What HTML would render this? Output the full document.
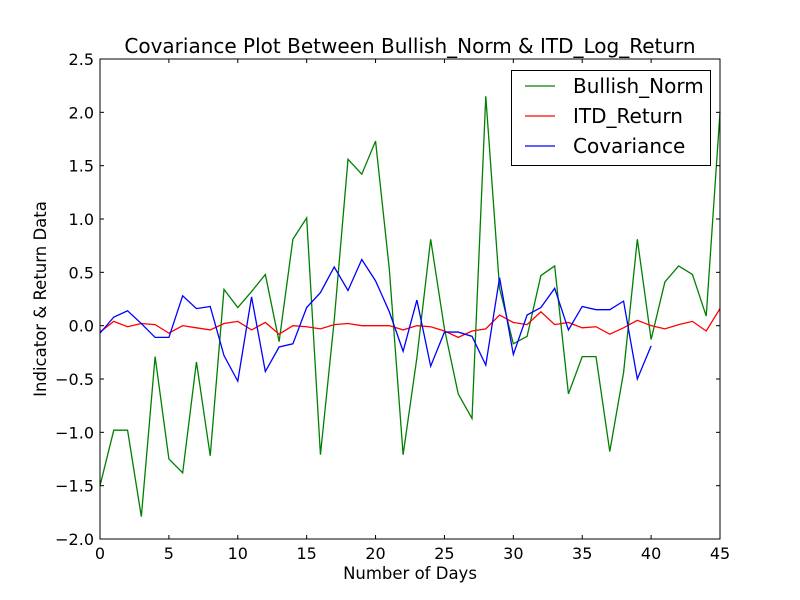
<!DOCTYPE html>
<html><head><meta charset="utf-8"><style>body{margin:0;background:#fff}svg{display:block;font-family:"DejaVu Sans","Liberation Sans",sans-serif}</style></head>
<body>
<svg id="chart" width="800" height="600">
<rect width="800" height="600" fill="#fff"/>
<g id="plot"></g>
</svg>
<script>
const xTicks=[0,5,10,15,20,25,30,35,40,45];
const yTicks=[-2.0,-1.5,-1.0,-0.5,0.0,0.5,1.0,1.5,2.0,2.5];
const bullish=[-1.5,-0.98,-0.98,-1.79,-0.29,-1.25,-1.38,-0.34,-1.22,0.34,0.17,0.32,0.48,-0.15,0.81,1.01,-1.21,0.05,1.56,1.42,1.73,0.53,-1.21,-0.3,0.81,-0.03,-0.64,-0.87,2.15,0.35,-0.17,-0.1,0.47,0.56,-0.64,-0.29,-0.29,-1.18,-0.44,0.81,-0.13,0.41,0.56,0.48,0.09,2.0];
const itdReturn=[-0.06,0.04,-0.01,0.02,0.01,-0.07,0.0,-0.02,-0.04,0.02,0.04,-0.04,0.03,-0.08,0.0,-0.01,-0.03,0.01,0.02,0.0,0.0,0.0,-0.04,0.0,-0.01,-0.05,-0.11,-0.05,-0.03,0.1,0.03,0.01,0.13,0.01,0.03,-0.02,-0.01,-0.08,-0.02,0.05,0.0,-0.03,0.01,0.04,-0.05,0.16];
const covariance=[-0.07,0.08,0.14,0.02,-0.11,-0.11,0.28,0.16,0.18,-0.28,-0.52,0.27,-0.43,-0.2,-0.17,0.17,0.31,0.55,0.33,0.62,0.42,0.13,-0.24,0.24,-0.38,-0.06,-0.06,-0.1,-0.37,0.45,-0.27,0.1,0.17,0.35,-0.04,0.18,0.15,0.15,0.23,-0.5,-0.19];
const L=100,R=720,T=59,B=539;
const xs=v=>L+(v-0)/45*(R-L);
const ys=v=>B-(v+2)/4.5*(B-T);
const g=document.getElementById('plot');
const NS='http://www.w3.org/2000/svg';
function mk(t,a,txt){const e=document.createElementNS(NS,t);for(const k in a)e.setAttribute(k,a[k]);if(txt!==undefined)e.textContent=txt;g.appendChild(e);return e;}
function series(arr,color,name){
  const pts=arr.map((v,i)=>xs(i).toFixed(2)+','+ys(v).toFixed(2)).join(' ');
  const p=mk('polyline',{points:pts,fill:'none',stroke:color,'stroke-width':1.3});
  
  
}
series(bullish,'#008000','bullish-norm-line');
series(itdReturn,'#ff0000','itd-return-line');
series(covariance,'#0000ff','covariance-line');
const frame=mk('rect',{x:L,y:T,width:R-L,height:B-T,fill:'none',stroke:'#000','stroke-width':1});


xTicks.forEach(v=>{const x=xs(v);
  mk('line',{x1:x,x2:x,y1:B,y2:B-4,stroke:'#000'});
  mk('line',{x1:x,x2:x,y1:T,y2:T+4,stroke:'#000'});
  const t=mk('text',{x:x,y:B+20,'text-anchor':'middle','font-size':16},String(v));
  
  
});
yTicks.forEach(v=>{const y=ys(v);
  mk('line',{x1:L,x2:L+4,y1:y,y2:y,stroke:'#000'});
  mk('line',{x1:R,x2:R-4,y1:y,y2:y,stroke:'#000'});
  const t=mk('text',{x:L-6,y:y+6,'text-anchor':'end','font-size':16},v.toFixed(1).replace('-','\u2212'));
  
  
});
const title=mk('text',{x:410,y:53,'text-anchor':'middle','font-size':20},'Covariance Plot Between Bullish_Norm & ITD_Log_Return');


const xl=mk('text',{x:410,y:579,'text-anchor':'middle','font-size':16.5},'Number of Days');


const yl=mk('text',{x:46,y:299,'text-anchor':'middle','font-size':16.5,transform:'rotate(-90 46 299)'},'Indicator & Return Data');


const lg=mk('rect',{x:511.5,y:70.5,width:199,height:95,fill:'#fff',stroke:'#000'});


[['Bullish_Norm','#008000'],['ITD_Return','#ff0000'],['Covariance','#0000ff']].forEach((d,i)=>{
  const y=86+i*30;
  mk('line',{x1:525,x2:555,y1:y,y2:y,stroke:d[1],'stroke-width':1.3});
  const t=mk('text',{x:573,y:y+7,'font-size':20},d[0]);
  
  
});
</script>
</body></html>
